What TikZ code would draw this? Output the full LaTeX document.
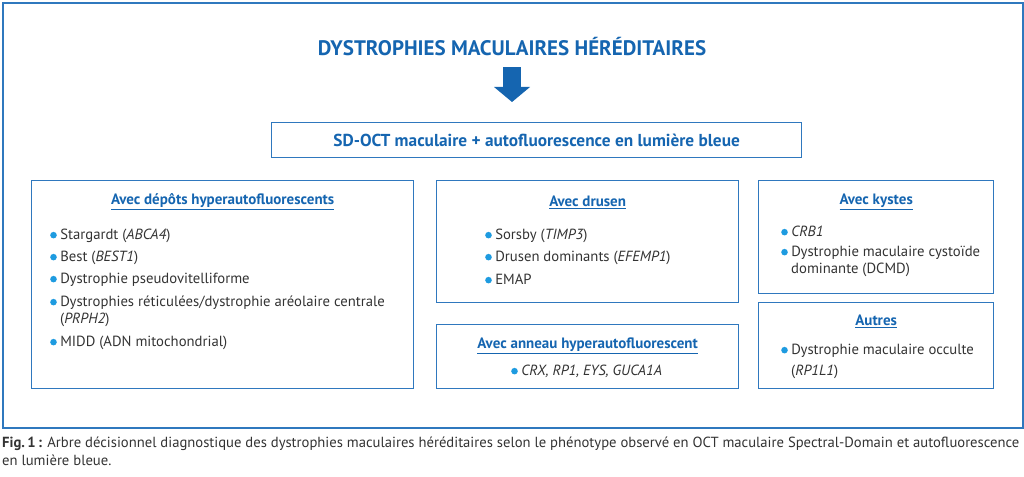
\documentclass[tikz,border=0pt]{standalone}
\usepackage{fontspec}
\setmainfont{PT Sans}
\usepackage{tikz}
\usetikzlibrary{arrows.meta, positioning, calc}
\definecolor{bleufonce}{HTML}{1565B0}
\definecolor{bleucadre}{HTML}{2F78BE}
\definecolor{bleupuce}{HTML}{1E9BE0}
\definecolor{gristexte}{HTML}{333333}
\newcommand{\puce}{\tikz[baseline=0pt]\fill[bleupuce] (3.3pt,4.6pt) circle (3.3pt);\hspace{3.5pt}}
\newcommand{\retrait}{\hspace*{10pt}}
\tikzstyle{cadre} = [rectangle, draw=bleucadre, line width=2pt, anchor=north west, inner sep=0pt]
\tikzstyle{boite} = [rectangle, draw=bleucadre, line width=1.3pt, anchor=north west, inner sep=0pt]
\tikzstyle{entete} = [font=\bfseries\fontsize{15}{17}\selectfont, text=bleufonce, inner sep=0pt]
\tikzstyle{item} = [anchor=west, font=\fontsize{14.7}{17}\selectfont, text=gristexte, inner sep=0pt, text height=11pt, text depth=3.5pt]
\tikzstyle{fleche} = [line width=18pt, draw=bleufonce, -{Triangle[length=15pt, width=36pt, line width=0pt]}]

\begin{document}
\begin{tikzpicture}[x=1pt, y=-1pt]
  \useasboundingbox (0,0) rectangle (1024,476);
  % Cadre general
  \node[cadre, minimum width=1020, minimum height=425] (tout) at (2,2) {};

  % Titre et fleche
  \node[font=\bfseries\fontsize{21}{23}\selectfont, text=bleufonce, inner sep=0pt] (titre) at (512,47) {DYSTROPHIES MACULAIRES HÉRÉDITAIRES};
  \node[boite, minimum width=530, minimum height=35] (sdoct) at (271,122) {};
  \node[font=\bfseries\fontsize{17.3}{19}\selectfont, text=bleufonce, inner sep=0pt] (sdoctT) at (sdoct.center) {SD-OCT maculaire + autofluorescence en lumière bleue};
  \draw[fleche, shorten <=11pt, shorten >=20pt] (titre.south) -- (titre.south |- sdoct.north);

  % Avec depots hyperautofluorescents
  \node[boite, minimum width=382, minimum height=208] (depots) at (31,180) {};
  \node[entete] (depotsT) at ($(depots.north)+(0,22)$) {\underline{Avec dépôts hyperautofluorescents}};
  \node[item] (stargardt) at (50,236) {\puce Stargardt (\textit{ABCA4})};
  \node[item] (best) at (50,258) {\puce Best (\textit{BEST1})};
  \node[item] (pseudo) at (50,280) {\puce Dystrophie pseudovitelliforme};
  \node[item] (reticulees) at (50,303) {\puce Dystrophies réticulées/dystrophie aréolaire centrale};
  \node[item] (prph) at (50,320) {\retrait(\textit{PRPH2})};
  \node[item] (midd) at (50,343) {\puce MIDD (ADN mitochondrial)};

  % Avec drusen
  \node[boite, minimum width=302, minimum height=122] (drusen) at (436,180) {};
  \node[entete] (drusenT) at ($(drusen.north)+(0,22)$) {\underline{Avec drusen}};
  \node[item] (sorsby) at (485,236) {\puce Sorsby (\textit{TIMP3})};
  \node[item] (dominants) at (485,258) {\puce Drusen dominants (\textit{EFEMP1})};
  \node[item] (emap) at (485,281) {\puce EMAP};

  % Avec anneau hyperautofluorescent
  \node[boite, minimum width=302, minimum height=64] (anneau) at (436,324) {};
  \node[entete] (anneauT) at ($(anneau.north)+(0,22)$) {\underline{Avec anneau hyperautofluorescent}};
  \node[item] (crx) at (511,372) {\puce \textit{CRX, RP1, EYS, GUCA1A}};

  % Avec kystes
  \node[boite, minimum width=235, minimum height=113] (kystes) at (758,180) {};
  \node[entete] (kystesT) at ($(kystes.north)+(0,22)$) {\underline{Avec kystes}};
  \node[item] (crb) at (781,233) {\puce \textit{CRB1}};
  \node[item] (cystoide) at (781,253) {\puce Dystrophie maculaire cystoïde};
  \node[item] (dcmd) at (781,270) {\retrait dominante (DCMD)};

  % Autres
  \node[boite, minimum width=235, minimum height=86] (autres) at (758,302) {};
  \node[entete] (autresT) at ($(autres.north)+(0,19)$) {\underline{Autres}};
  \node[item] (occulte) at (781,351) {\puce Dystrophie maculaire occulte};
  \node[item] (rpl) at (781,372) {\retrait(\textit{RP1L1})};

  % Legende
  \node[anchor=north west, inner sep=0pt, align=left, text=gristexte, font=\fontsize{14.65}{18.5}\selectfont] (legende) at (2,436.5)
    {\textbf{Fig.\,1\,:} Arbre décisionnel diagnostique des dystrophies maculaires héréditaires selon le phénotype observé en OCT maculaire Spectral-Domain et autofluorescence\\en lumière bleue.};
\end{tikzpicture}
\end{document}
